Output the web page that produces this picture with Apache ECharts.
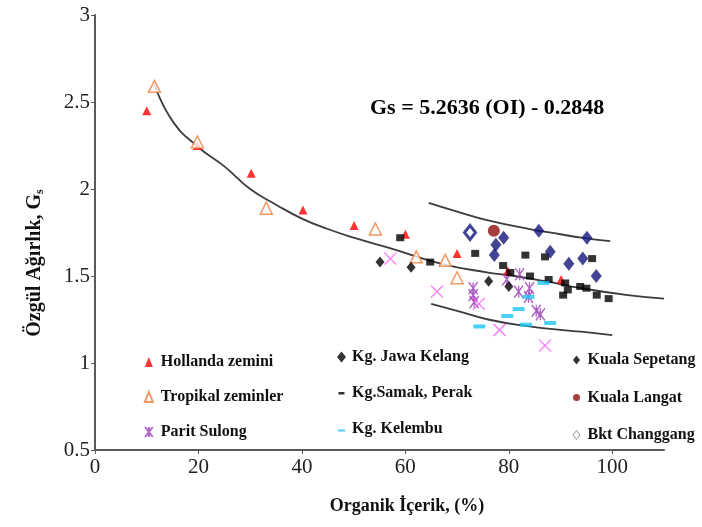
<!DOCTYPE html>
<html>
<head>
<meta charset="utf-8">
<script src="https://cdn.jsdelivr.net/npm/echarts@6/dist/echarts.min.js"></script>
<style>
  html, body { margin: 0; padding: 0; background: #fff; }
  #chart { width: 702px; height: 527px; }
</style>
</head>
<body>
<div id="chart"></div>
<script>
// Organic content (%) vs specific gravity Gs, by soil source
const hollanda = [[10, 2.45], [19.8, 2.25], [30.2, 2.09], [40.2, 1.88], [50.1, 1.79], [60, 1.74], [70, 1.63], [79.8, 1.53], [90.1, 1.48]];
const tropikal = [[11.5, 2.59], [19.8, 2.27], [33.1, 1.89], [54.2, 1.77], [62.1, 1.61], [67.7, 1.59], [70, 1.49]];
const paritSulong = [[73.1, 1.43], [73.1, 1.39], [73.3, 1.35], [79.6, 1.48], [82.1, 1.51], [81.9, 1.41], [84, 1.43], [83.8, 1.38], [85.3, 1.30], [86.1, 1.28]];
const digerNoktalar = [[57.1, 1.60], [66.1, 1.41], [74.2, 1.34], [78.2, 1.19], [87, 1.10]];
const jawaKelang = [[55.1, 1.58], [61.1, 1.55], [76.1, 1.47], [80, 1.44]];
const samakPerak = [[59, 1.72], [64.8, 1.58], [73.5, 1.63], [78.9, 1.56], [80.3, 1.52], [83.2, 1.62], [84.1, 1.50], [87, 1.61], [87.7, 1.48], [90.5, 1.39], [90.9, 1.46], [91.4, 1.42], [93.8, 1.44], [95, 1.43], [96.1, 1.60], [97, 1.39], [99.3, 1.37]];
const kelembu = [[74.3, 1.21], [79.7, 1.27], [81.9, 1.31], [83.8, 1.38], [86.7, 1.46], [88, 1.23], [83.3, 1.22]];
const kualaSepetang = [[79, 1.72], [77.5, 1.68], [77.2, 1.62], [85.8, 1.76], [88, 1.64], [91.6, 1.57], [94.3, 1.60], [95.1, 1.72], [96.9, 1.50]];
const kualaLangat = [[77.1, 1.76]];
const bktChanggang = [[72.5, 1.75]];

// trend curve and the two bounding lines
const trendCurve = [[11.5, 2.60], [15, 2.39], [20, 2.24], [25, 2.13], [30, 2.00], [35, 1.91], [40, 1.83], [45, 1.77], [50, 1.72], [57, 1.66], [67, 1.57], [76, 1.52], [81, 1.50], [87, 1.47], [94, 1.43], [103, 1.39], [110, 1.37]];
const upperLine = [[64.5, 1.92], [70, 1.87], [76, 1.82], [84, 1.77], [90, 1.74], [94, 1.72], [99.6, 1.70]];
const lowerLine = [[65, 1.34], [70, 1.30], [76, 1.25], [84, 1.21], [90, 1.19], [94, 1.18], [100, 1.16]];

const xTicks = [0, 20, 40, 60, 80, 100];
const equationText = 'Gs = 5.2636 (OI) - 0.2848';
const xName = 'Organik İçerik, (%)';

const serif = '"Liberation Serif", "DejaVu Serif", serif';
const asterisk = 'path://M0,0L10,13M10,0L0,13M5,0L5,13';
const cross = 'path://M0,0L10,10M10,0L0,10';
// legend dash icons: the leading moveTo points fix the icon box so the bar stays thin
const samakDash = 'path://M0,0M9,11M1.5,4.5H7.5V7H1.5Z';
const kelembuDash = 'path://M0,0M9,11M1,6H8V8H1Z';

function scatter(name, data, symbol, size, style, z) {
  return { type: 'scatter', name, data, symbol, symbolSize: size, itemStyle: style, z: z || 3 };
}
function curve(data) {
  return {
    type: 'line', data, smooth: true, symbol: 'none', silent: true, z: 2,
    lineStyle: { color: '#3c3c3c', width: 1.8 }
  };
}
function legendText(padLeft) {
  return {
    fontFamily: serif, fontWeight: 'bold', fontSize: 16, color: '#111', lineHeight: 18,
    padding: [0, 0, 0, padLeft]
  };
}

const chart = echarts.init(document.getElementById('chart'));

chart.setOption({
  animation: false,
  backgroundColor: '#fff',
  grid: { left: 95, right: 38, top: 15, bottom: 77 },
  xAxis: {
    type: 'value', min: 0, max: 110,
    axisLine: { lineStyle: { color: '#5a5a5a', width: 2 } },
    axisTick: { customValues: xTicks, length: 4, lineStyle: { color: '#5a5a5a' } },
    axisLabel: { customValues: xTicks, fontFamily: serif, fontSize: 21, color: '#222', margin: 7 },
    splitLine: { show: false }
  },
  yAxis: {
    type: 'value', min: 0.5, max: 3, interval: 0.5,
    axisLine: { show: true, lineStyle: { color: '#5a5a5a', width: 2 } },
    axisTick: { show: true, length: 4, lineStyle: { color: '#5a5a5a' } },
    axisLabel: { fontFamily: serif, fontSize: 21, color: '#222', margin: 5 },
    splitLine: { show: false }
  },
  legend: [
    {
      orient: 'vertical', left: 137.5, top: 348, itemWidth: 8, itemHeight: 10, itemGap: 17,
      textStyle: legendText(3), selectedMode: false,
      data: ['Hollanda zemini', 'Tropikal zeminler', 'Parit Sulong']
    },
    {
      orient: 'vertical', left: 332, top: 343, itemWidth: 9, itemHeight: 11, itemGap: 18,
      textStyle: legendText(1), selectedMode: false,
      data: [
        'Kg. Jawa Kelang',
        { name: 'Kg.Samak, Perak', icon: samakDash },
        { name: 'Kg. Kelembu', icon: kelembuDash }
      ]
    },
    {
      orient: 'vertical', left: 567.5, top: 346, itemWidth: 7, itemHeight: 9, itemGap: 19.5,
      textStyle: legendText(2.5), selectedMode: false,
      data: [
        { name: 'Kuala Sepetang', itemStyle: { color: '#000' } },
        'Kuala Langat',
        { name: 'Bkt Changgang', itemStyle: { color: '#fff', borderColor: '#777', borderWidth: 1 } }
      ]
    }
  ],
  graphic: [
    {
      type: 'text', left: 370, top: 97,
      style: { text: equationText, font: 'bold 22px ' + serif, fill: '#000' }
    },
    {
      type: 'text', x: 407, y: 506,
      style: { text: xName, font: 'bold 18px ' + serif, fill: '#111', align: 'center', verticalAlign: 'middle' }
    },
    {
      type: 'text', x: 35, y: 263, rotation: Math.PI / 2,
      style: {
        text: 'Özgül Ağırlık, G{sub|s}', font: 'bold 20px ' + serif, fill: '#111',
        align: 'center', verticalAlign: 'middle',
        rich: { sub: { font: 'bold 12px ' + serif, fill: '#111', padding: [9, 0, 0, 0] } }
      }
    }
  ],
  series: [
    curve(trendCurve),
    curve(upperLine),
    curve(lowerLine),
    scatter('Hollanda zemini', hollanda, 'triangle', 9, { color: '#ff0000' }),
    scatter('Tropikal zeminler', tropikal, 'triangle', 12, { color: '#fff', borderColor: '#f07d3c', borderWidth: 1.5 }),
    scatter('Parit Sulong', paritSulong, asterisk, [9, 12], { color: 'none', borderColor: '#9a3fb5', borderWidth: 1.5 }),
    scatter('Diğer', digerNoktalar, cross, 12, { color: 'none', borderColor: '#ff4dff', borderWidth: 1.3 }),
    scatter('Kg. Jawa Kelang', jawaKelang, 'diamond', [9, 11], { color: '#000' }),
    scatter('Kg.Samak, Perak', samakPerak, 'rect', [8, 7], { color: '#000' }),
    scatter('Kg. Kelembu', kelembu, 'rect', [12, 4], { color: '#1cc4f2' }),
    scatter('Kuala Sepetang', kualaSepetang, 'diamond', [11, 14], { color: '#15157a' }),
    scatter('Kuala Langat', kualaLangat, 'circle', 12, { color: '#8e0d0d' }),
    scatter('Bkt Changgang', bktChanggang, 'diamond', [11, 14], { color: '#fff', borderColor: '#15157a', borderWidth: 3 })
  ]
});
</script>
</body>
</html>
